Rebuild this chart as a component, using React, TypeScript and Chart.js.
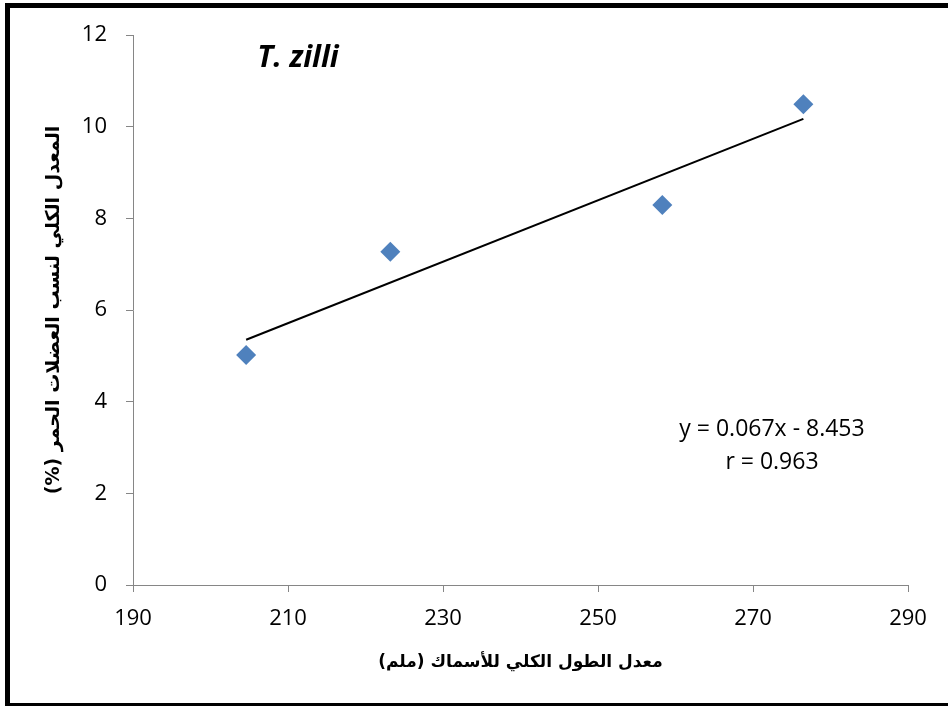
import React, { useEffect, useRef } from 'react';
import { Chart, registerables } from 'chart.js';

Chart.register(...registerables);

// ---- data ----
const lengthMm = [204.6, 223.2, 258.3, 276.5];
const redMusclePct = [5.02, 7.27, 8.29, 10.49];
const xTicks = [190, 210, 230, 250, 270, 290];
const yTicks = [0, 2, 4, 6, 8, 10, 12];
const chartTitle = 'T. zilli';
const equationLines = ['y = 0.067x - 8.453', 'r = 0.963'];
const xAxisTitle = 'معدل الطول الكلي للأسماك (ملم)';
const yAxisTitle = 'المعدل الكلي لنسب العضلات الحمر (%)';

// least-squares trend line through the data
function trendPoints() {
  const n = lengthMm.length;
  const mx = lengthMm.reduce((a, b) => a + b, 0) / n;
  const my = redMusclePct.reduce((a, b) => a + b, 0) / n;
  let sxy = 0;
  let sxx = 0;
  for (let i = 0; i < n; i++) {
    sxy += (lengthMm[i] - mx) * (redMusclePct[i] - my);
    sxx += (lengthMm[i] - mx) ** 2;
  }
  const slope = sxy / sxx;
  const icpt = my - slope * mx;
  const x0 = Math.min(...lengthMm);
  const x1 = Math.max(...lengthMm);
  return [
    { x: x0, y: slope * x0 + icpt },
    { x: x1, y: slope * x1 + icpt },
  ];
}

const RLM = '\u200F';

const decorPlugin = {
  id: 'decor',
  beforeDraw(chart: any) {
    const ctx = chart.ctx;
    ctx.save();
    ctx.fillStyle = '#ffffff';
    ctx.fillRect(0, 0, chart.width, chart.height);
    ctx.restore();
  },
  afterDraw(chart: any) {
    const ctx = chart.ctx;
    ctx.save();
    ctx.strokeStyle = '#000000';
    ctx.lineWidth = 5;
    ctx.strokeRect(7.5, 5.5, 960, 700);

    ctx.fillStyle = '#000000';
    ctx.textAlign = 'center';
    ctx.textBaseline = 'alphabetic';
    ctx.font = 'italic bold 30px "Open Sans"';
    ctx.fillText(chartTitle, 298, 67);

    ctx.font = '23px "Open Sans"';
    ctx.fillText(equationLines[0], 772, 436);
    ctx.fillText(equationLines[1], 772, 469);
    ctx.restore();
  },
};

export default function App() {
  const canvasRef = useRef<HTMLCanvasElement | null>(null);

  useEffect(() => {
    document.body.style.margin = '0';
    document.body.style.overflow = 'hidden';
    const canvas = canvasRef.current;
    if (!canvas) return;
    const axisColor = '#868686';
    const tickFont = { family: '"Open Sans"', size: 22 };

    const chart = new Chart(canvas, {
      type: 'scatter',
      data: {
        datasets: [
          {
            label: 'data',
            data: lengthMm.map((x, i) => ({ x, y: redMusclePct[i] })),
            pointStyle: 'rectRot',
            pointRadius: 10,
            pointHoverRadius: 10,
            pointBorderWidth: 0,
            backgroundColor: '#4F81BD',
            borderColor: '#4F81BD',
            order: 2,
          },
          {
            label: 'trend',
            type: 'line',
            data: trendPoints(),
            showLine: true,
            pointRadius: 0,
            borderColor: '#000000',
            borderWidth: 2,
            fill: false,
            order: 1,
          } as any,
        ],
      },
      options: {
        responsive: false,
        animation: false,
        devicePixelRatio: 1,
        layout: { padding: { left: 0, right: 40, top: 35, bottom: 0 } },
        plugins: {
          legend: { display: false },
          tooltip: { enabled: false },
          title: { display: false },
        },
        scales: {
          x: {
            type: 'linear',
            position: 'bottom',
            min: 190,
            max: 290,
            afterBuildTicks: (s: any) => {
              s.ticks = xTicks.map((v) => ({ value: v }));
            },
            afterFit: (s: any) => {
              s.height = 121;
            },
            ticks: { color: '#000000', font: tickFont, padding: 14, maxRotation: 0 },
            grid: {
              display: true,
              drawOnChartArea: false,
              drawTicks: true,
              tickLength: 7,
              color: axisColor,
              lineWidth: 1,
            },
            border: { display: true, color: axisColor, width: 1 },
            title: {
              display: true,
              text: xAxisTitle + RLM,
              color: '#000000',
              font: { family: '"DejaVu Sans", sans-serif', size: 17, weight: 'bold' },
              padding: { top: 0, bottom: 33 },
            },
          },
          y: {
            type: 'linear',
            min: 0,
            max: 12,
            afterBuildTicks: (s: any) => {
              s.ticks = yTicks.map((v) => ({ value: v }));
            },
            afterFit: (s: any) => {
              s.width = 133;
            },
            ticks: { color: '#000000', font: tickFont, padding: 19 },
            grid: {
              display: true,
              drawOnChartArea: false,
              drawTicks: true,
              tickLength: 7,
              color: axisColor,
              lineWidth: 1,
            },
            border: { display: true, color: axisColor, width: 1 },
            title: {
              display: true,
              text: yAxisTitle + RLM,
              color: '#000000',
              font: { family: '"DejaVu Sans", sans-serif', size: 19, weight: 'bold' },
              padding: { top: 43, bottom: 0 },
            },
          },
        },
      },
      plugins: [decorPlugin],
    });

    return () => {
      chart.destroy();
    };
  }, []);

  return (
    <div style={{ width: 948, height: 706, position: 'relative' }}>
      <canvas ref={canvasRef} width={948} height={706} style={{ display: 'block', width: 948, height: 706 }} />
    </div>
  );
}
